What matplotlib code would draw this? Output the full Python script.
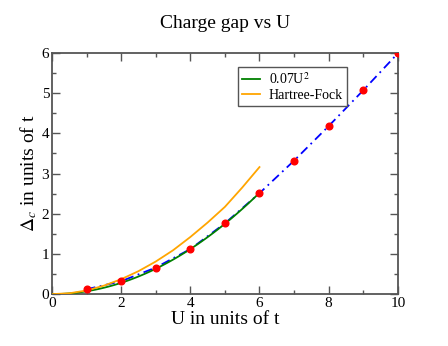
import matplotlib
matplotlib.use("Agg")
import matplotlib.pyplot as plt
import numpy as np
from matplotlib.ticker import MultipleLocator

plt.rcParams['font.family'] = ['Liberation Serif', 'DejaVu Serif']
plt.rcParams['mathtext.fontset'] = 'stix'

# data
U_pts = [1, 2, 3, 4, 5, 6, 7, 8, 9, 10]
gap_pts = [0.12, 0.32, 0.66, 1.12, 1.76, 2.51, 3.32, 4.18, 5.07, 5.99]

U_hf = [0, 0.5, 1, 1.5, 2, 2.5, 3, 3.5, 4, 4.5, 5, 5.5, 6]
gap_hf = [0.0, 0.02, 0.09, 0.21, 0.37, 0.57, 0.81, 1.09, 1.42, 1.78, 2.17, 2.65, 3.16]

U_fit = np.linspace(0, 6, 100)
gap_fit = 0.07 * U_fit ** 2

fig = plt.figure(figsize=(4.48, 3.46), dpi=100)
ax = fig.add_axes([0.116, 0.150, 0.772, 0.697])

ax.plot(U_pts, gap_pts, color='blue', linestyle=(0, (5, 2.5, 1, 2.5)), linewidth=1.3, zorder=2)
ax.plot(U_fit, gap_fit, color='green', linewidth=1.3, label=r'0.07U$^2$', zorder=3)
ax.plot(U_hf, gap_hf, color='orange', linewidth=1.3, label='Hartree-Fock', zorder=3)
ax.plot(U_pts, gap_pts, 'o', color='red', markersize=4.8, zorder=4)

ax.set_xlim(0, 10)
ax.set_ylim(0, 6)
ax.xaxis.set_major_locator(MultipleLocator(2))
ax.xaxis.set_minor_locator(MultipleLocator(1))
ax.yaxis.set_major_locator(MultipleLocator(1))
ax.yaxis.set_minor_locator(MultipleLocator(0.5))
ax.tick_params(which='both', direction='in', top=True, right=True, color='#555555', labelsize=11, pad=2)
ax.tick_params(which='major', length=6, width=1)
ax.tick_params(which='minor', length=3, width=1)
for s in ax.spines.values():
    s.set_color('#555555')
    s.set_linewidth(1.3)

ax.set_title('Charge gap vs U', fontsize=14, pad=18)
ax.set_xlabel('U in units of t', fontsize=14, labelpad=1)
ax.set_ylabel(r'$\Delta_c$ in units of t', fontsize=14, labelpad=2)

leg = ax.legend(loc='upper left', bbox_to_anchor=(0.538, 0.942), borderaxespad=0, fontsize=10,
                handlelength=1.3, handletextpad=0.6, borderpad=0.3, labelspacing=0.15,
                fancybox=False, framealpha=1)
leg.get_frame().set_edgecolor('#555555')
leg.get_frame().set_linewidth(1.0)

fig.savefig('out.png', dpi=100)
